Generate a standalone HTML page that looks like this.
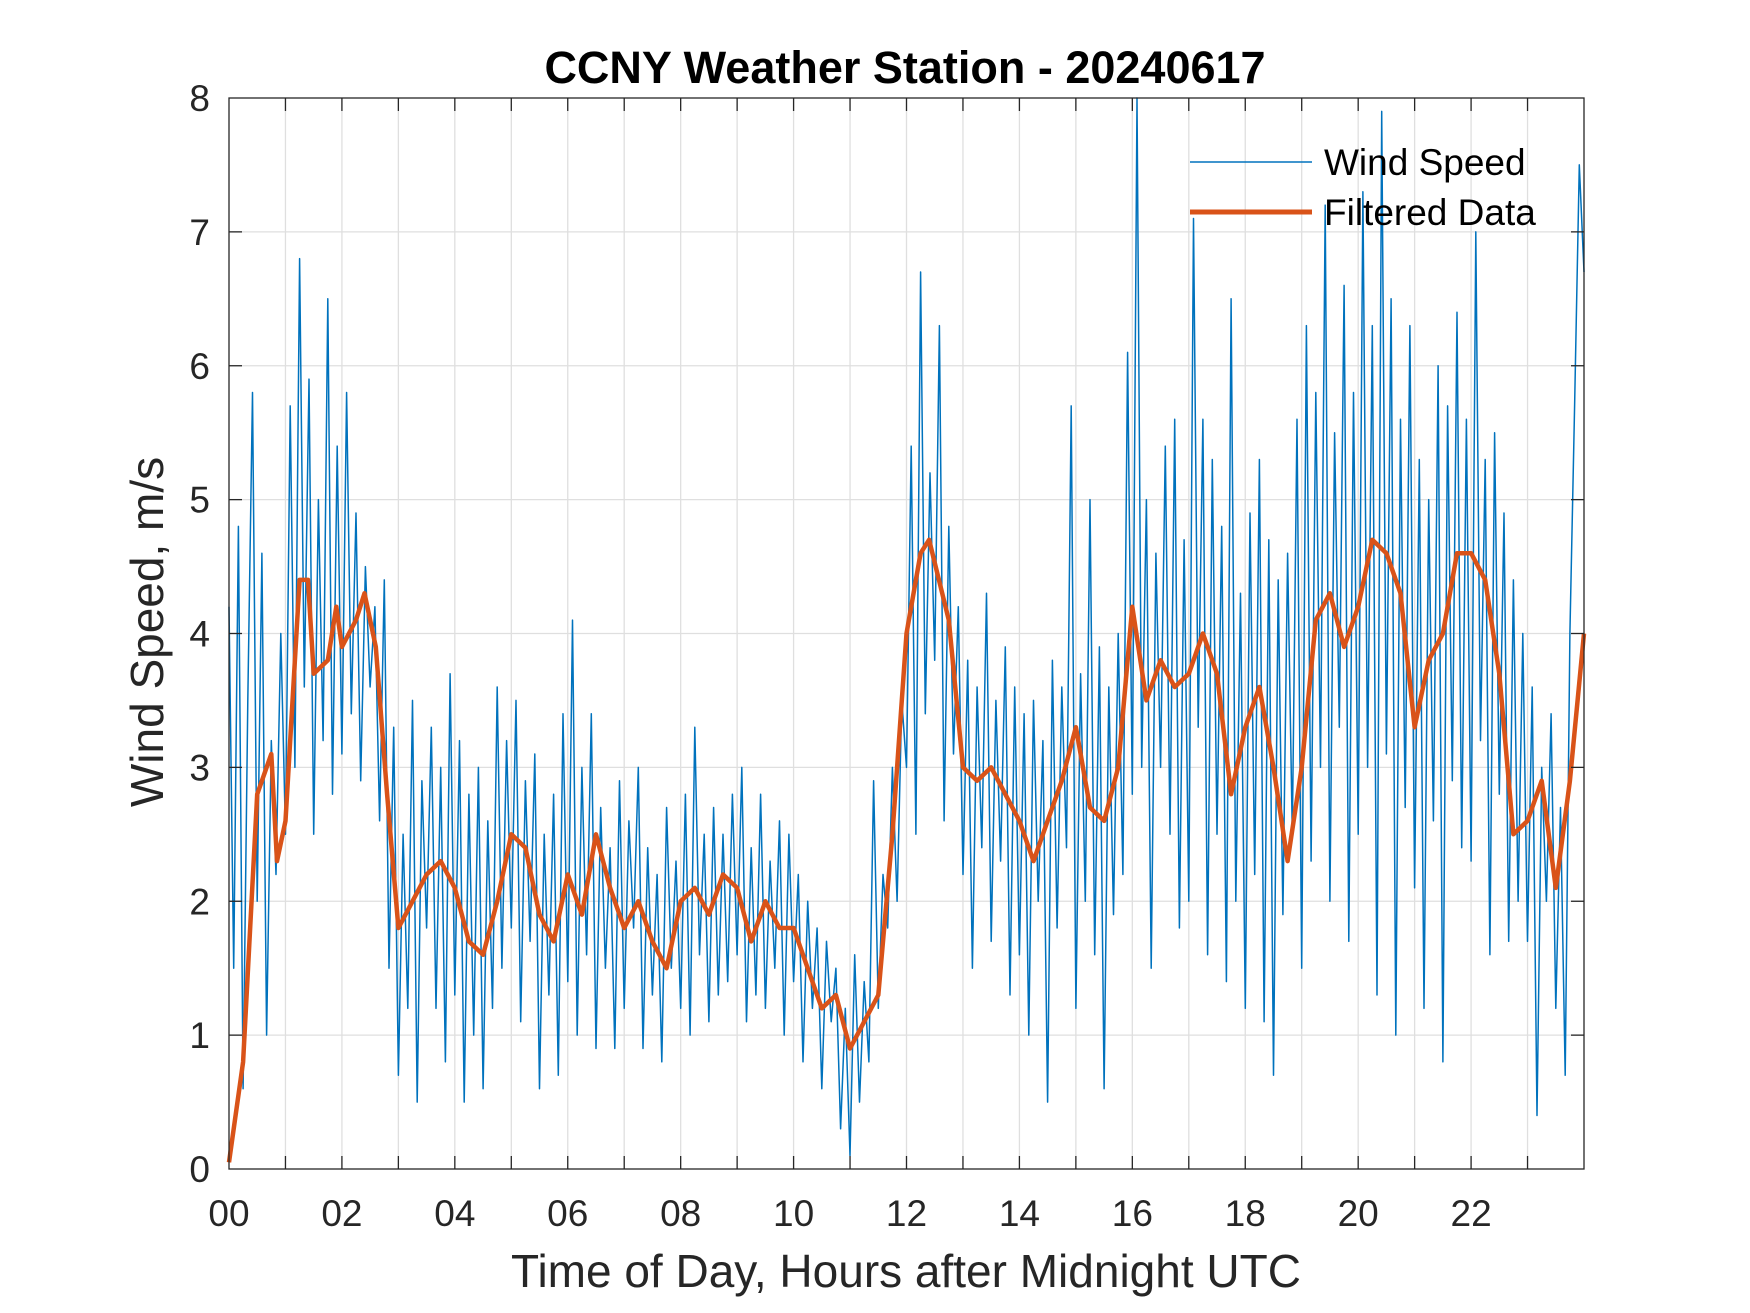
<!DOCTYPE html>
<html><head><meta charset="utf-8"><style>
html,body{margin:0;padding:0;background:#fff;}
svg{display:block;font-family:"Liberation Sans",Arial,sans-serif;}
</style></head><body>
<svg id="chart" width="1750" height="1313" viewBox="0 0 1750 1313" xmlns="http://www.w3.org/2000/svg">
<rect width="1750" height="1313" fill="#fff"/>
<g id="grid"></g>
<g id="series"></g>
<rect x="229" y="98" width="1355" height="1071" fill="none" stroke="#262626" stroke-width="1.3"/>
<g id="ticks"></g>
<text x="905" y="83" text-anchor="middle" font-size="45" font-weight="bold" fill="#000">CCNY Weather Station - 20240617</text>
<text x="906" y="1287" text-anchor="middle" font-size="46" fill="#262626">Time of Day, Hours after Midnight UTC</text>
<text transform="translate(163,632) rotate(-90)" text-anchor="middle" font-size="46" fill="#262626">Wind Speed, m/s</text>
<g>
<line x1="1190" y1="162" x2="1312" y2="162" stroke="#0072BD" stroke-width="1.5"/>
<text x="1324" y="175" font-size="37" fill="#000">Wind Speed</text>
<line x1="1190" y1="212" x2="1312" y2="212" stroke="#D95319" stroke-width="5"/>
<text x="1324" y="225" font-size="37" fill="#000">Filtered Data</text>
</g>
</svg>
<script>
const xTickLabels = ["00","02","04","06","08","10","12","14","16","18","20","22"];
const yTickLabels = [0,1,2,3,4,5,6,7,8];
const rawStepHours = 5/60;
const rawSpeed = [
4.2,1.5,4.8,0.6,3.5,5.8,2.0,4.6,1.0,3.2,2.2,4.0,
2.5,5.7,3.0,6.8,3.6,5.9,2.5,5.0,3.2,6.5,2.8,5.4,
3.1,5.8,3.4,4.9,2.9,4.5,3.6,4.2,2.6,4.4,1.5,3.3,
0.7,2.5,1.2,3.5,0.5,2.9,1.8,3.3,1.2,3.0,0.8,3.7,
1.3,3.2,0.5,2.8,1.0,3.0,0.6,2.6,1.2,3.6,1.5,3.2,
1.8,3.5,1.1,2.9,1.7,3.1,0.6,2.5,1.3,2.8,0.7,3.4,
1.4,4.1,1.0,3.0,1.6,3.4,0.9,2.7,1.5,2.4,0.9,2.9,
1.2,2.6,1.8,3.0,0.9,2.4,1.3,2.2,0.8,2.7,1.5,2.3,
1.2,2.8,1.0,3.3,1.6,2.5,1.1,2.7,1.3,2.5,1.4,2.8,
1.6,3.0,1.1,2.4,1.3,2.8,1.2,2.3,1.5,2.6,1.0,2.5,
1.4,2.2,0.8,2.0,1.2,1.8,0.6,1.7,1.1,1.5,0.3,1.2,
0.1,1.6,0.5,1.4,0.8,2.9,1.2,2.2,1.8,3.0,2.0,3.5,
3.0,5.4,2.5,6.7,3.4,5.2,3.8,6.3,2.6,4.8,3.1,4.2,
2.2,3.8,1.5,3.6,2.4,4.3,1.7,3.5,2.3,3.9,1.3,3.6,
1.6,3.4,1.0,3.5,2.0,3.2,0.5,3.8,1.8,3.6,2.4,5.7,
1.2,3.7,2.0,5.0,1.6,3.9,0.6,3.6,1.9,4.0,2.2,6.1,
2.8,8.0,3.0,5.0,1.5,4.6,3.0,5.4,2.5,5.6,1.8,4.7,
2.0,7.1,3.3,5.6,1.6,5.3,2.5,4.8,1.4,6.5,2.0,4.3,
1.2,4.9,2.2,5.3,1.1,4.7,0.7,4.4,1.9,4.6,2.5,5.6,
1.5,6.3,2.3,5.8,3.0,7.2,2.0,5.5,3.3,6.6,1.7,5.8,
2.5,7.3,3.0,6.3,1.3,7.9,3.1,6.5,1.0,5.6,2.7,6.3,
2.1,5.3,1.2,5.0,2.6,6.0,0.8,5.7,2.9,6.4,2.4,5.6,
2.3,7.0,3.2,5.3,1.6,5.5,2.8,4.9,1.7,4.4,2.0,4.0,
1.7,3.6,0.4,3.0,2.0,3.4,1.2,2.7,0.7,4.0,5.7,7.5,
6.7];
const filtHours = [0,0.25,0.5,0.75,0.85,1.0,1.25,1.4,1.5,1.75,1.9,2.0,2.25,2.4,2.6,2.8,3.0,3.25,3.5,3.75,4.0,4.25,4.5,4.75,5.0,5.25,5.5,5.75,6.0,6.25,6.5,6.75,7.0,7.25,7.5,7.75,8.0,8.25,8.5,8.75,9.0,9.25,9.5,9.75,10.0,10.25,10.5,10.75,11.0,11.25,11.5,11.75,12.0,12.25,12.4,12.75,13.0,13.25,13.5,13.75,14.0,14.25,14.5,14.75,15.0,15.25,15.5,15.75,16.0,16.25,16.5,16.75,17.0,17.25,17.5,17.75,18.0,18.25,18.5,18.75,19.0,19.25,19.5,19.75,20.0,20.25,20.5,20.75,21.0,21.25,21.5,21.75,22.0,22.25,22.5,22.75,23.0,23.25,23.5,23.75,24.0];
const filtSpeed = [0.05,0.8,2.8,3.1,2.3,2.6,4.4,4.4,3.7,3.8,4.2,3.9,4.1,4.3,3.9,2.8,1.8,2.0,2.2,2.3,2.1,1.7,1.6,2.0,2.5,2.4,1.9,1.7,2.2,1.9,2.5,2.1,1.8,2.0,1.7,1.5,2.0,2.1,1.9,2.2,2.1,1.7,2.0,1.8,1.8,1.5,1.2,1.3,0.9,1.1,1.3,2.5,4.0,4.6,4.7,4.1,3.0,2.9,3.0,2.8,2.6,2.3,2.6,2.9,3.3,2.7,2.6,3.0,4.2,3.5,3.8,3.6,3.7,4.0,3.7,2.8,3.3,3.6,3.0,2.3,3.0,4.1,4.3,3.9,4.2,4.7,4.6,4.3,3.3,3.8,4.0,4.6,4.6,4.4,3.7,2.5,2.6,2.9,2.1,2.9,4.0];

const X0=229,X1=1584,Y0=1169,Y1=98;
function xs(h){return X0+(X1-X0)*h/24;}
function ys(v){return Y0-(Y0-Y1)*v/8;}
const NS="http://www.w3.org/2000/svg";
function mk(tag,attrs,parent){const e=document.createElementNS(NS,tag);for(const k in attrs)e.setAttribute(k,attrs[k]);parent.appendChild(e);return e;}
const grid=document.getElementById('grid'),ticks=document.getElementById('ticks'),series=document.getElementById('series');
for(let h=1;h<24;h++){
  const l=mk('line',{x1:xs(h),x2:xs(h),y1:Y1,y2:Y0,stroke:'#dfdfdf','stroke-width':1.3},grid);
  
  
  const t1=mk('line',{x1:xs(h),x2:xs(h),y1:Y0,y2:Y0-13,stroke:'#262626','stroke-width':1.3},ticks);
  
  
  const t2=mk('line',{x1:xs(h),x2:xs(h),y1:Y1,y2:Y1+13,stroke:'#262626','stroke-width':1.3},ticks);
  
  
}
yTickLabels.forEach(v=>{
  if(v>0&&v<8){
    const l=mk('line',{x1:X0,x2:X1,y1:ys(v),y2:ys(v),stroke:'#dfdfdf','stroke-width':1.3},grid);
    
    
    const t1=mk('line',{x1:X0,x2:X0+13,y1:ys(v),y2:ys(v),stroke:'#262626','stroke-width':1.3},ticks);
    
    
    const t2=mk('line',{x1:X1,x2:X1-13,y1:ys(v),y2:ys(v),stroke:'#262626','stroke-width':1.3},ticks);
    
    
  }
  const t=mk('text',{x:X0-19,y:ys(v)+13,'text-anchor':'end','font-size':37,fill:'#262626'},ticks);
  t.textContent=v;
  
  
});
xTickLabels.forEach((s,i)=>{
  const t=mk('text',{x:xs(i*2),y:1226,'text-anchor':'middle','font-size':37,fill:'#262626'},ticks);
  t.textContent=s;
  
  
});
const rawPts=rawSpeed.map((v,i)=>xs(i*rawStepHours).toFixed(1)+','+ys(v).toFixed(1)).join(' ');
const raw=mk('polyline',{points:rawPts,fill:'none',stroke:'#0072BD','stroke-width':1.5,'stroke-linejoin':'round'},series);


const fPts=filtSpeed.map((v,i)=>xs(filtHours[i]).toFixed(1)+','+ys(v).toFixed(1)).join(' ');
const f=mk('polyline',{points:fPts,fill:'none',stroke:'#D95319','stroke-width':4.5,'stroke-linejoin':'round'},series);


</script>
</body></html>
